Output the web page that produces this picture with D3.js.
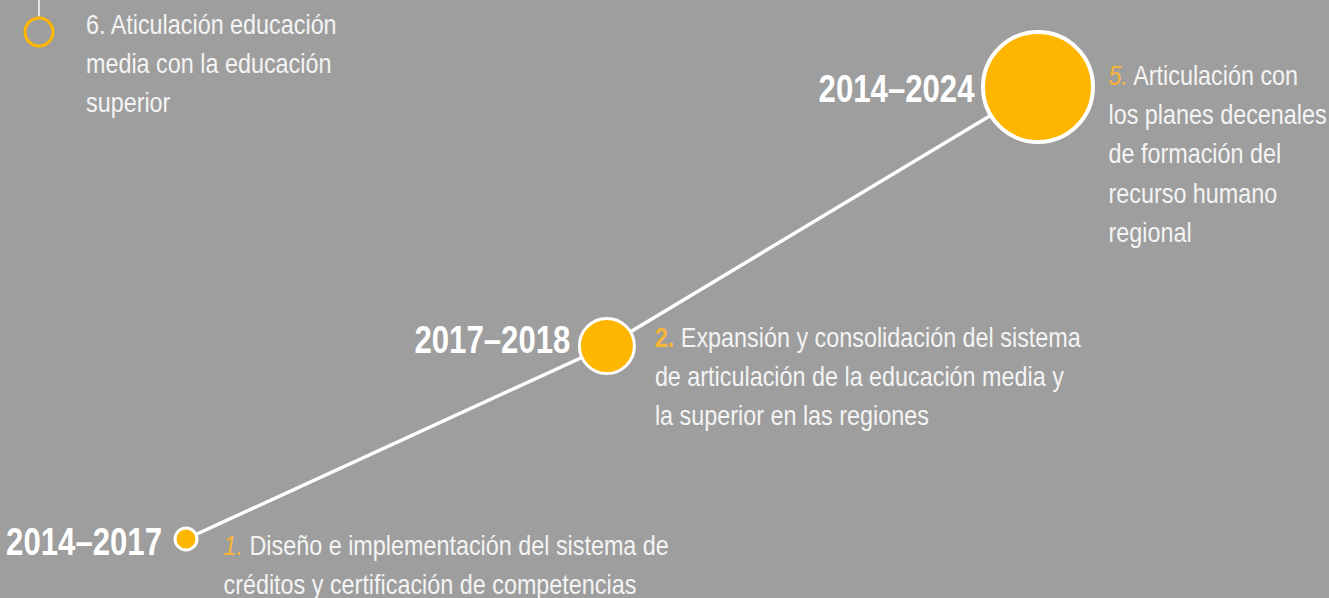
<!DOCTYPE html>
<html><head><meta charset="utf-8">
<script src="https://cdn.jsdelivr.net/npm/d3@7"></script>
<style>html,body{margin:0;padding:0;background:#9d9e9d;overflow:hidden} svg{display:block}</style>
</head><body><svg id="chart" width="1329" height="598"></svg>
<script>
// ---- data ----
const periods = ["2014–2017", "2017–2018", "2014–2024"];
const stepNumbers = ["1.", "2.", "5."];
const stepLines = [
  ["Diseño e implementación del sistema de", "créditos y certificación de competencias"],
  ["Expansión y consolidación del sistema", "de articulación de la educación media y", "la superior en las regiones"],
  ["Articulación con", "los planes decenales", "de formación del", "recurso humano", "regional"]
];
const stageProgress = [0, 49.4, 100];  // position along the timeline
const stageLevel = [0, 42.7, 100];     // rise of the timeline
const stageWeight = [1, 2.5, 5];       // relative circle size
const nextStepNumber = "6.";
const nextStepLines = ["Aticulación educación", "media con la educación", "superior"];

// ---- layout / style ----
const W = 1329, H = 598;
const BG = "#9d9e9d", ORANGE = "#ffb600", NUM = "#f9b43a", TXT = "#f4f4f4";
const yearGap = [13, 9, 8.5], yearDy = [16, 7, 15];
const descGap = [26.5, 20.5, 15.5], descDy = [16, 1, -2];
const LH = 39.2;
const BODY = "28.5px";

const svg = d3.select("#chart");
svg.append("rect").attr("width", W).attr("height", H).attr("fill", BG);

// font detection
const fam = "'Liberation Sans Narrow', 'Liberation Sans', Arial, sans-serif";
const p1 = svg.append("text").style("font-family", fam).style("font-size", "40px").text("los planes decenales");
const p2 = svg.append("text").style("font-family", "'Liberation Sans', Arial, sans-serif").style("font-size", "40px").text("los planes decenales");
const hasNarrow = Math.abs(p1.node().getComputedTextLength() - p2.node().getComputedTextLength()) > 4;
p1.remove(); p2.remove();
const SX = hasNarrow ? 1 : 0.82;
function squeeze(sel, x) {
  if (SX !== 1) sel.attr("transform", `translate(${x},0) scale(${SX},1) translate(${-x},0)`);
  return sel;
}

const x = d3.scaleLinear().domain([0, 100]).range([186, 1038]);
const y = d3.scaleLinear().domain([0, 100]).range([539, 87]);
const r = d3.scaleLinear().domain([0, 5]).range([0, 55]);

const stages = periods.map((p, i) => ({
  period: p, num: stepNumbers[i], lines: stepLines[i],
  cx: x(stageProgress[i]), cy: y(stageLevel[i]), r: r(stageWeight[i]), i
}));

// timeline
svg.append("path")
  .datum(stages)
  .attr("d", d3.line().x(d => d.cx).y(d => d.cy))
  .attr("fill", "none").attr("stroke", "#ffffff").attr("stroke-width", 3.5);

svg.selectAll("circle.stage").data(stages).join("circle")
  .attr("class", "stage")
  .attr("cx", d => d.cx).attr("cy", d => d.cy).attr("r", d => d.r)
  .attr("fill", ORANGE).attr("stroke", "#ffffff")
  .attr("stroke-width", d => d.r > 40 ? 4 : 3);

// period labels
stages.forEach(d => {
  const tx = d.cx - d.r - yearGap[d.i];
  const t = svg.append("text")
    .attr("x", tx).attr("y", d.cy + yearDy[d.i])
    .attr("text-anchor", "end")
    .style("font-family", fam).style("font-weight", "bold").style("font-size", "38px")
    .attr("fill", "#ffffff").text(d.period);
  squeeze(t, tx);
});

// descriptions
stages.forEach(d => {
  const tx = d.cx + d.r + descGap[d.i];
  const t = svg.append("text")
    .attr("x", tx).attr("y", d.cy + descDy[d.i])
    .style("font-family", fam).style("font-size", BODY).attr("fill", TXT);
  d.lines.forEach((ln, k) => {
    if (k === 0) {
      t.append("tspan").attr("x", tx).attr("fill", NUM)
        .style("font-style", d.i === 1 ? "normal" : "italic")
        .style("font-weight", d.i === 1 ? "bold" : "normal")
        .text(d.num);
      t.append("tspan").text(" " + ln);
    } else {
      t.append("tspan").attr("x", tx).attr("dy", LH).text(ln);
    }
  });
  squeeze(t, tx);
});

// next step (continuation at top-left)
const nx = 39, ny = 32, nr = 14;
svg.append("line").attr("x1", nx).attr("x2", nx).attr("y1", 0).attr("y2", ny - nr - 1.5)
  .attr("stroke", "#ffffff").attr("stroke-width", 1.5);
svg.append("circle").attr("cx", nx).attr("cy", ny).attr("r", nr)
  .attr("fill", "none").attr("stroke", ORANGE).attr("stroke-width", 3);
const ntx = 86;
const nt = svg.append("text").attr("x", ntx).attr("y", 34)
  .style("font-family", fam).style("font-size", BODY).attr("fill", TXT);
nextStepLines.forEach((ln, k) => {
  nt.append("tspan").attr("x", ntx).attr("dy", k === 0 ? 0 : LH)
    .text(k === 0 ? nextStepNumber + " " + ln : ln);
});
squeeze(nt, ntx);
</script>
</body></html>
